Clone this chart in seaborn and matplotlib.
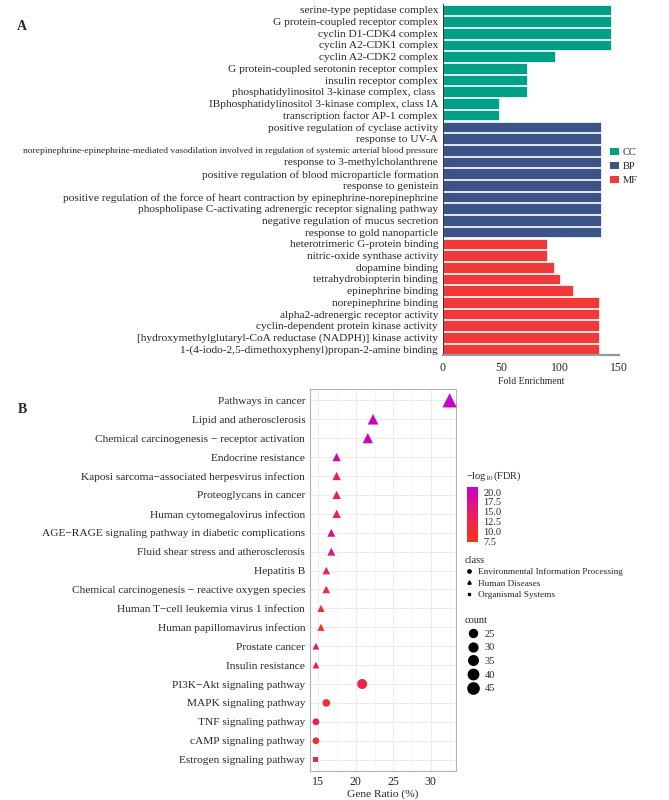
import numpy as np
import pandas as pd
import matplotlib
matplotlib.use("Agg")
import matplotlib.pyplot as plt
from matplotlib.colors import LinearSegmentedColormap, Normalize
from matplotlib.lines import Line2D
from matplotlib.patches import Patch
from matplotlib.path import Path
import matplotlib.colorbar as mcolorbar
import seaborn as sns

# ---- panel A data: GO enrichment ----
cc_terms = ["serine-type peptidase complex", "G protein-coupled receptor complex",
            "cyclin D1-CDK4 complex", "cyclin A2-CDK1 complex", "cyclin A2-CDK2 complex",
            "G protein-coupled serotonin receptor complex", "insulin receptor complex",
            "phosphatidylinositol 3-kinase complex, class ",
            "IBphosphatidylinositol 3-kinase complex, class IA",
            "transcription factor AP-1 complex"]
cc_fold = [143.2, 143.2, 143.2, 143.2, 95.5, 71.6, 71.6, 71.6, 47.7, 47.7]

bp_terms = ["positive regulation of cyclase activity", "response to UV-A",
            "norepinephrine-epinephrine-mediated vasodilation involved in regulation of systemic arterial blood pressure",
            "response to 3-methylcholanthrene",
            "positive regulation of blood microparticle formation", "response to genistein",
            "positive regulation of the force of heart contraction by epinephrine-norepinephrine",
            "phospholipase C-activating adrenergic receptor signaling pathway",
            "negative regulation of mucus secretion", "response to gold nanoparticle"]
bp_fold = [134.5, 134.5, 134.5, 134.5, 134.5, 134.5, 134.5, 134.5, 134.5, 134.5]

mf_terms = ["heterotrimeric G-protein binding", "nitric-oxide synthase activity",
            "dopamine binding", "tetrahydrobiopterin binding", "epinephrine binding",
            "norepinephrine binding", "alpha2-adrenergic receptor activity",
            "cyclin-dependent protein kinase activity",
            "[hydroxymethylglutaryl-CoA reductase (NADPH)] kinase activity",
            "1-(4-iodo-2,5-dimethoxyphenyl)propan-2-amine binding"]
mf_fold = [88.6, 88.6, 94.7, 99.8, 110.6, 133.0, 133.0, 133.0, 133.0, 133.0]

go_colors = {"CC": "#00A087", "BP": "#3C5488", "MF": "#F03A3A"}

# ---- panel B data: KEGG enrichment ----
pathways = ["Pathways in cancer", "Lipid and atherosclerosis",
            "Chemical carcinogenesis \u2212 receptor activation", "Endocrine resistance",
            "Kaposi sarcoma\u2212associated herpesvirus infection", "Proteoglycans in cancer",
            "Human cytomegalovirus infection",
            "AGE\u2212RAGE signaling pathway in diabetic complications",
            "Fluid shear stress and atherosclerosis", "Hepatitis B",
            "Chemical carcinogenesis \u2212 reactive oxygen species",
            "Human T\u2212cell leukemia virus 1 infection", "Human papillomavirus infection",
            "Prostate cancer", "Insulin resistance", "PI3K\u2212Akt signaling pathway",
            "MAPK signaling pathway", "TNF signaling pathway", "cAMP signaling pathway",
            "Estrogen signaling pathway"]
gene_ratio = [32.5, 22.3, 21.6, 17.45, 17.45, 17.45, 17.45, 16.74, 16.74, 16.07,
              16.07, 15.36, 15.36, 14.69, 14.69, 20.85, 16.07, 14.69, 14.69, 14.69]
gene_count = [47, 32, 31, 25, 25, 25, 25, 24, 24, 23, 23, 22, 22, 21, 21, 30, 23, 21, 21, 21]
neglog_fdr = [21.3, 20.5, 20.8, 19.0, 14.5, 14.5, 14.0, 17.5, 16.5, 13.5,
              11.5, 10.5, 7.3, 16.0, 14.8, 12.8, 9.5, 14.5, 10.5, 13.5]
kegg_class = ["Human Diseases"] * 15 + ["Environmental Information Processing"] * 4 + ["Organismal Systems"]
class_order = ["Environmental Information Processing", "Human Diseases", "Organismal Systems"]
count_ticks = [25, 30, 35, 40, 45]
fdr_ticks = [7.5, 10.0, 12.5, 15.0, 17.5, 20.0]

# a square a bit smaller than matplotlib's "s" (ggplot's shape 15 is compact);
# the lone MOVETO corner only sets the marker's scale, nothing is drawn there
small_square = Path([(1, 1), (-0.75, -0.75), (0.75, -0.75), (0.75, 0.75), (-0.75, 0.75), (-0.75, -0.75)],
                    [Path.MOVETO, Path.MOVETO, Path.LINETO, Path.LINETO, Path.LINETO, Path.CLOSEPOLY])
class_markers = {"Environmental Information Processing": "o", "Human Diseases": "^",
                 "Organismal Systems": small_square}

sns.set_style("white")
plt.rcParams["font.family"] = ["Liberation Serif", "DejaVu Serif"]
plt.rcParams["mathtext.fontset"] = "stix"

W, H = 669, 800
fig = plt.figure(figsize=(W / 100, H / 100), dpi=100)

def fx(px):
    return px / W

def fy(px):
    return 1 - px / H

# ================= panel A =================
dfA = pd.DataFrame({
    "term": cc_terms + bp_terms + mf_terms,
    "fold": cc_fold + bp_fold + mf_fold,
    "cat": ["CC"] * len(cc_terms) + ["BP"] * len(bp_terms) + ["MF"] * len(mf_terms),
})
axA = fig.add_axes([fx(443), fy(355), fx(619) - fx(443), (355 - 4) / H])
sns.barplot(data=dfA, x="fold", y="term", hue="cat", palette=go_colors, dodge=False,
            saturation=1, width=0.9, edgecolor="white", linewidth=0.5, legend=False, ax=axA)
axA.set_xlim(0, 150)
axA.set_ylim(len(dfA) - 0.5, -0.5)
axA.set_xticks([0, 50, 100, 150])
axA.set_xlabel("Fold Enrichment", fontsize=7, labelpad=2)
axA.set_ylabel("")
axA.tick_params(axis="y", length=2.5, width=0.6, color="#333333", pad=1, labelsize=8.2)
axA.tick_params(axis="x", length=3, width=0.8, color="#999999", pad=2, labelsize=8.5)
for lab in axA.get_yticklabels():
    if lab.get_text().startswith("norepinephrine-epinephrine"):
        lab.set_fontsize(6.8)
for s in ["top", "right"]:
    axA.spines[s].set_visible(False)
axA.spines["left"].set_color("#333333")
axA.spines["left"].set_linewidth(0.7)
axA.spines["bottom"].set_color("#999999")
axA.spines["bottom"].set_linewidth(1.6)

handlesA = [Patch(facecolor=go_colors[k], edgecolor="none", label=k) for k in ["CC", "BP", "MF"]]
fig.legend(handles=handlesA, loc="upper left", bbox_to_anchor=(fx(610), fy(148)),
           frameon=False, fontsize=7.5, handlelength=0.9, handleheight=0.7,
           handletextpad=0.3, labelspacing=0.45, borderpad=0, borderaxespad=0)

fig.text(fx(22), fy(27), "A", fontsize=10, fontweight="bold", va="center", ha="center")

# ================= panel B =================
dfB = pd.DataFrame({"pathway": pathways, "ratio": gene_ratio, "count": gene_count,
                    "fdr": neglog_fdr, "class": kegg_class})
dfB["pos"] = np.arange(len(dfB))

cmap = LinearSegmentedColormap.from_list("fdr", ["#F5361C", "#E8205E", "#C800C8"])
fdr_norm = (7.3, 21.3)

axB = fig.add_axes([fx(310), fy(771), fx(456) - fx(310), (771 - 389) / H])
sns.scatterplot(data=dfB, x="ratio", y="pos", hue="fdr", palette=cmap, hue_norm=fdr_norm,
                size="count", sizes=(24, 105), size_norm=(21, 47), style="class",
                markers=class_markers, style_order=class_order, linewidth=0,
                legend=False, ax=axB, zorder=3, clip_on=False)
axB.set_xlim(13.9, 33.35)
axB.set_ylim(len(dfB) - 0.4, -0.6)
axB.set_yticks(dfB["pos"])
axB.set_yticklabels(dfB["pathway"])
axB.set_xticks([15, 20, 25, 30])
axB.set_xticks([17.5, 22.5, 27.5, 32.5], minor=True)
axB.grid(True, which="major", color="#EBEBEB", linewidth=0.7)
axB.grid(True, which="minor", axis="x", color="#F3F3F3", linewidth=0.5)
axB.set_axisbelow(True)
axB.set_xlabel("Gene Ratio (%)", fontsize=8.2, labelpad=1)
axB.set_ylabel("")
axB.tick_params(axis="both", which="major", length=2.5, width=0.6, color="#444444",
                pad=1, labelsize=8.2)
axB.tick_params(axis="x", which="major", labelsize=8.6)
axB.tick_params(axis="both", which="minor", length=0)
for s in axB.spines.values():
    s.set_color("#B3B3B3")
    s.set_linewidth(0.8)

fig.text(fx(22), fy(410), "B", fontsize=10, fontweight="bold", va="center", ha="center")

# colourbar legend for -log10(FDR)
fig.text(fx(466), fy(476), "\u2212log$_{10}$(FDR)", fontsize=7.5, va="center", ha="left")
cax = fig.add_axes([fx(467), fy(542), fx(11), 55 / H])
cb = mcolorbar.ColorbarBase(cax, cmap=cmap, norm=Normalize(*fdr_norm), ticks=fdr_ticks)
cb.outline.set_visible(False)
cb.ax.tick_params(length=2.5, width=0.6, color="white", direction="in", pad=4, labelsize=7.5)
cb.ax.set_yticklabels([f"{t:.1f}" for t in fdr_ticks])

# class legend
handles_cls = [Line2D([], [], linestyle="none", marker=class_markers[c], color="black",
                      markersize=2.4, label=c) for c in class_order]
fig.legend(handles=handles_cls, loc="upper left", bbox_to_anchor=(fx(465), fy(556)),
           frameon=False, fontsize=6.7, title="class", title_fontsize=7.5,
           alignment="left", handlelength=0.8, handletextpad=0.6,
           labelspacing=0.3, borderpad=0, borderaxespad=0)

count_px = [8, 8.8, 9.6, 10.4, 11.2]
handles_cnt = [Line2D([], [], linestyle="none", marker="o", color="black",
                      markersize=px * 0.72, label=str(c)) for c, px in zip(count_ticks, count_px)]
fig.legend(handles=handles_cnt, loc="upper left", bbox_to_anchor=(fx(465), fy(616)),
           frameon=False, fontsize=7.5, title="count", title_fontsize=7.5,
           alignment="left", handlelength=1.5, handletextpad=0.4,
           labelspacing=0.42, borderpad=0, borderaxespad=0)

fig.savefig("out.png", dpi=100, facecolor="white")
